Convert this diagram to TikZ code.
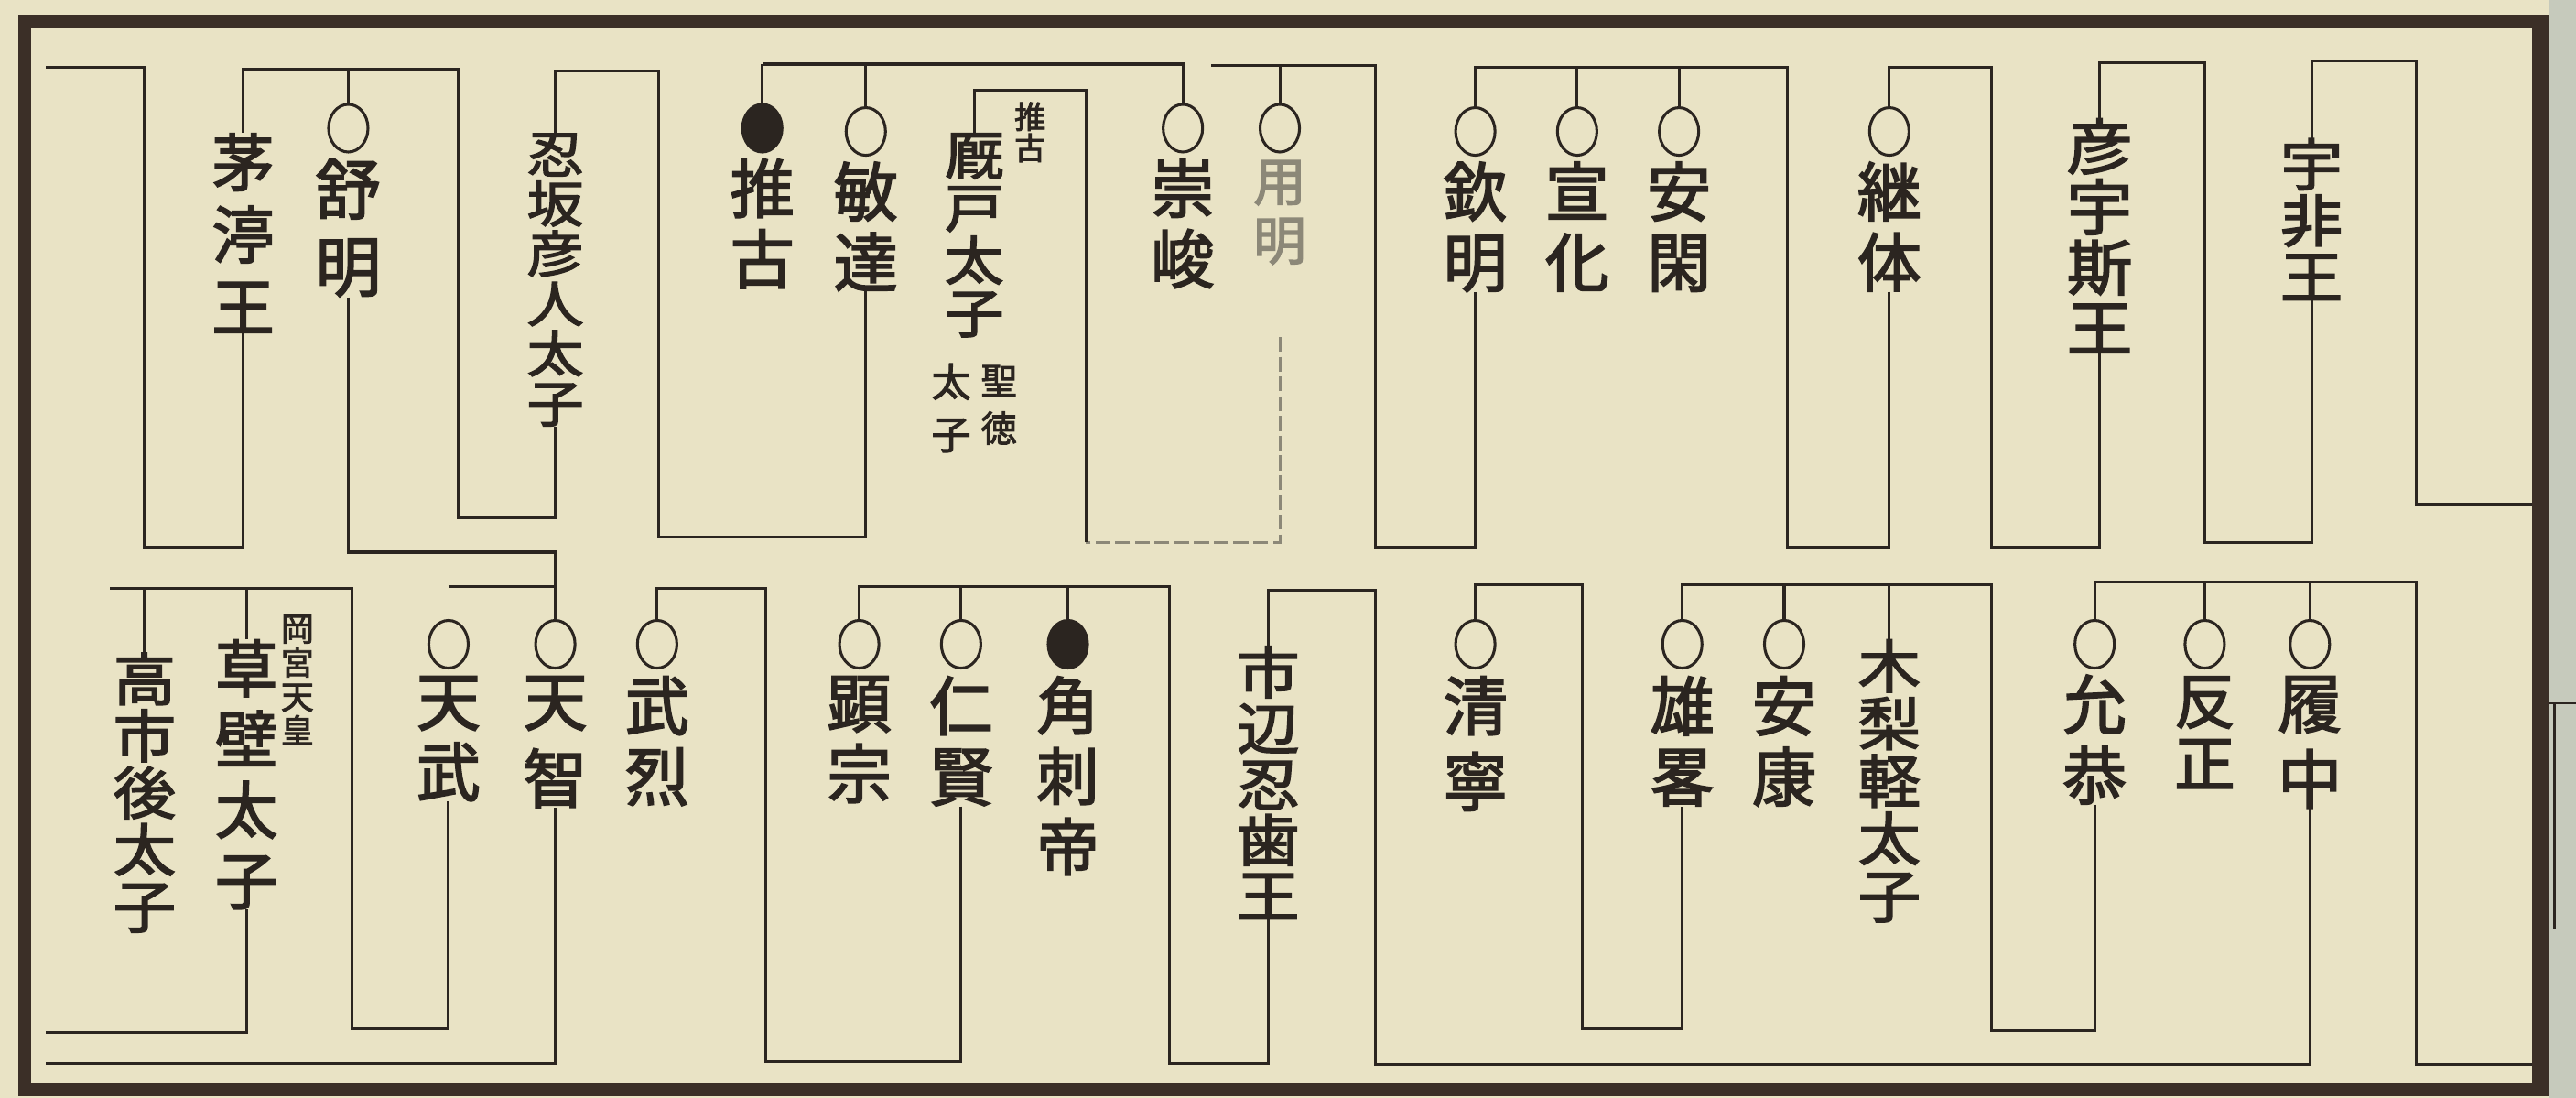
\documentclass[tikz,border=0pt]{standalone}
\usepackage{fontspec}
\newfontfamily\jp[FakeBold=2.5]{Noto Sans CJK JP}
\usetikzlibrary{positioning,shapes.geometric}
\definecolor{paper}{HTML}{E9E3C5}
\definecolor{ink}{HTML}{2B2520}
\definecolor{frame}{HTML}{3B2F27}
\definecolor{fade}{HTML}{8C8878}
\definecolor{nextpage}{HTML}{C6CABC}

\begin{document}
\begin{tikzpicture}[
    x=1pt, y=-1pt,
    link/.style={draw=ink, line width=1.7pt},
    maru/.style={draw=ink, ellipse, line width=1.7pt, minimum width=24pt, minimum height=29pt, inner sep=0pt},
    kuro/.style={maru, fill=ink},
    kanji/.style 2 args={anchor=north, align=center, inner sep=0pt, text=ink,
      font={\jp\fontsize{#1}{#2}\selectfont}},
    kan/.style={kanji={39}{43}},
    squash/.style={yscale=#1, transform shape}
  ]
  \useasboundingbox (0,0) rectangle (1568,668);
  \fill[paper] (0,0) rectangle (1568,668);
  \fill[nextpage] (1551,0) rectangle (1568,668);
  \draw[frame, line width=8pt] (15,13) rectangle (1546,663);
  \draw[frame, line width=10pt] (1546,9) -- (1546,667);
  \draw[ink, line width=1.4pt] (1551,428) -- (1568,428) (1555,428) -- (1555,565);

  % upper row
  \node[kanji={38}{38}, squash=0.9] (ufi) at (1407,84) {宇\\非\\王};
  \node[kanji={40}{40}, squash=0.92] (hikoushi) at (1278,72) {彦\\宇\\斯\\王};
  \node[maru] (keitai-o) at (1150,80) {};
  \node[kan, below=3pt of keitai-o] (keitai) {継\\体};
  \node[maru] (ankan-o) at (1022,80) {};
  \node[kan, below=3pt of ankan-o] (ankan) {安\\閑};
  \node[maru] (senka-o) at (960,80) {};
  \node[kan, below=3pt of senka-o] (senka) {宣\\化};
  \node[maru] (kinmei-o) at (898,80) {};
  \node[kan, below=3pt of kinmei-o] (kinmei) {欽\\明};
  \node[maru] (yomei-o) at (779,78) {};
  \node[kanji={32}{36}, text=fade, below=4pt of yomei-o] (yomei) {用\\明};
  \node[maru] (sushun-o) at (720,78) {};
  \node[kan, below=3pt of sushun-o] (sushun) {崇\\峻};
  \node[kanji={36}{36}, squash=0.89] (umayado) at (593,81) {厩\\戸\\太\\子};
  \node[kanji={19}{19}] (suiko-note) at (627,62) {推\\古};
  \node[kanji={22}{29}] (shotoku) at (608,222) {聖\\徳};
  \node[kanji={24}{32}] (taishi) at (579,221) {太\\子};
  \node[maru] (bidatsu-o) at (527,80) {};
  \node[kan, below=3pt of bidatsu-o] (bidatsu) {敏\\達};
  \node[kuro] (suiko-o) at (464,78) {};
  \node[kan, below=3pt of suiko-o] (suiko) {推\\古};
  \node[kanji={34.5}{34.5}, squash=0.88] (oshisaka) at (338,81) {忍\\坂\\彦\\人\\太\\子};
  \node[maru] (jomei-o) at (212,78) {};
  \node[kanji={40}{47}, below=3pt of jomei-o] (jomei) {舒\\明};
  \node[kanji={38}{44}] (chinu) at (148,81) {茅\\渟\\王};

  % lower row
  \node[maru] (richu-o) at (1406,392) {};
  \node[kanji={39}{46}, below=4pt of richu-o] (richu) {履\\中};
  \node[maru] (hanzei-o) at (1342,392) {};
  \node[kanji={37}{38}, below=4pt of hanzei-o] (hanzei) {反\\正};
  \node[maru] (ingyo-o) at (1275,392) {};
  \node[kan, below=3pt of ingyo-o] (ingyo) {允\\恭};
  \node[kanji={38}{38}, squash=0.92] (karu) at (1150,389) {木\\梨\\軽\\太\\子};
  \node[maru] (anko-o) at (1086,392) {};
  \node[kan, below=4pt of anko-o] (anko) {安\\康};
  \node[maru] (yuryaku-o) at (1024,392) {};
  \node[kan, below=4pt of yuryaku-o] (yuryaku) {雄\\畧};
  \node[maru] (seinei-o) at (898,392) {};
  \node[kanji={39}{46}, below=4pt of seinei-o] (seinei) {清\\寧};
  \node[kanji={38}{38}, squash=0.895] (ichinobe) at (772,393) {市\\辺\\忍\\歯\\王};
  \node[kuro] (tsunosashi-o) at (650,392) {};
  \node[kanji={38}{43}, below=4pt of tsunosashi-o] (tsunosashi) {角\\刺\\帝};
  \node[maru] (ninken-o) at (585,392) {};
  \node[kan, below=4pt of ninken-o] (ninken) {仁\\賢};
  \node[maru] (kenzo-o) at (523,392) {};
  \node[kan, below=4pt of kenzo-o] (kenzo) {顕\\宗};
  \node[maru] (buretsu-o) at (400,392) {};
  \node[kan, below=4pt of buretsu-o] (buretsu) {武\\烈};
  \node[maru] (tenji-o) at (338,392) {};
  \node[kanji={39}{47}, below=4pt of tenji-o] (tenji) {天\\智};
  \node[maru] (tenmu-o) at (273,392) {};
  \node[kan, below=4pt of tenmu-o] (tenmu) {天\\武};
  \node[kanji={38}{43}] (kusakabe) at (150,389) {草\\壁\\太\\子};
  \node[kanji={20}{20.7}] (okanomiya) at (181,374) {岡\\宮\\天\\皇};
  \node[kanji={38}{38}, squash=0.91] (takechi) at (88,397) {高\\市\\後\\太\\子};

  % lines running off the page
  \coordinate (fromR1) at (1541,307);
  \coordinate (fromR2) at (1541,648);
  \coordinate (toL1) at (28,41);
  \coordinate (toL2) at (28,628);
  \coordinate (toL3) at (28,647);

  % upper row lines
  \draw[link] (fromR1) -| (1471,37) -| (ufi.north);
  \draw[link] (ufi.south) |- (1342,330) -- (1342,38) -| (hikoushi.north);
  \draw[link] (hikoushi.south) |- (1212,333) -- (1212,41) -| (keitai-o);
  \draw[link] (keitai.south) |- (1088,333) -- (1088,41) -| (kinmei-o);
  \foreach \n in {ankan,senka}
    \draw[link] (\n-o) -- (\n-o |- 0,41);
  \draw[link] (kinmei.south) |- (837,333) -- (837,40) -- (737,40);
  \draw[link] (yomei-o) -- (yomei-o |- 0,40);
  \draw[link] (sushun-o) |- (464,39);
  \foreach \n in {bidatsu,suiko}
    \draw[link] (\n-o) -- (\n-o |- 0,39);
  \draw[link, draw=fade, dash pattern=on 9pt off 3pt, shorten <=44pt] (yomei.south) |- (661,330);
  \draw[link] (661,330) -- (661,55) -| (umayado.north);
  \draw[link] (bidatsu.south) |- (401,327) -- (401,43) -| (oshisaka.north);
  \draw[link] (oshisaka.south) |- (279,315) -- (279,42) -| (chinu.north);
  \draw[link] (jomei-o) -- (jomei-o |- 0,42);
  \draw[link] (chinu.south) |- (88,333) -- (88,41) -- (toL1);

  % lower row lines
  \draw[link] (fromR2) -| (1471,354) -| (ingyo-o);
  \foreach \n in {richu,hanzei}
    \draw[link] (\n-o) -- (\n-o |- 0,354);
  \draw[link] (richu.south) |- (837,648) -- (837,359) -| (ichinobe.north);
  \draw[link] (ingyo.south) |- (1212,627) -- (1212,356) -| (yuryaku-o);
  \draw[link] (anko-o) -- (anko-o |- 0,356);
  \draw[link] (karu.north) -- (karu.north |- 0,356);
  \draw[link] (yuryaku.south) |- (963,626) -- (963,356) -| (seinei-o);
  \draw[link] (ichinobe.south) |- (712,647) -- (712,357) -| (kenzo-o);
  \foreach \n in {tsunosashi,ninken}
    \draw[link] (\n-o) -- (\n-o |- 0,357);
  \draw[link] (ninken.south) |- (466,646) -- (466,358) -| (buretsu-o);
  \draw[link] (jomei.south) |- (338,336) -- (tenji-o);
  \draw[link] (tenmu-o |- 0,357) -- (tenji-o |- 0,357);
  \draw[link] (tenji.south) |- (toL3);
  \draw[link] (tenmu.south) |- (214,626) -- (214,358) -- (67,358);
  \draw[link] (kusakabe.north) -- (kusakabe.north |- 0,358);
  \draw[link] (takechi.north) -- (takechi.north |- 0,358);
  \draw[link] (kusakabe.south) |- (toL2);
\end{tikzpicture}
\end{document}
